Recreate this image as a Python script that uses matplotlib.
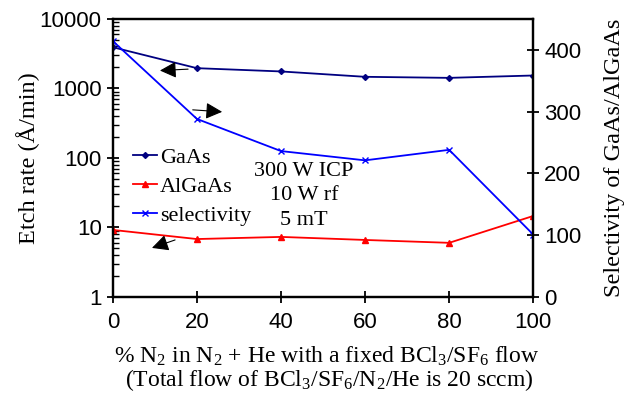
import numpy as np
import matplotlib.pyplot as plt
from matplotlib.ticker import LogLocator, NullFormatter, FixedLocator

plt.rcParams["mathtext.fontset"] = "custom"
plt.rcParams["mathtext.rm"] = "Liberation Serif"
plt.rcParams["mathtext.it"] = "Liberation Serif"
plt.rcParams["mathtext.bf"] = "Liberation Serif"

n2_percent = [0, 20, 40, 60, 80, 100]
gaas_rate = [3900, 1950, 1750, 1465, 1415, 1530]
algaas_rate = [9.2, 6.8, 7.3, 6.6, 6.0, 14.6]
selectivity = [414, 288, 236, 221, 238, 101]

serif = ["Liberation Serif", "DejaVu Serif"]
sans = ["Liberation Sans", "DejaVu Sans"]

fig = plt.figure(figsize=(6.34, 4.09), dpi=100)
ax = fig.add_axes([0.178, 0.274, 0.663, 0.680])
ax2 = ax.twinx()

l1, = ax.plot(n2_percent, gaas_rate, color="#000080", marker="D", markersize=3,
              linewidth=1.3, label="GaAs")
l2, = ax.plot(n2_percent, algaas_rate, color="#ff0000", marker="^", markersize=4.5,
              linewidth=1.3, label="AlGaAs")
l3, = ax2.plot(n2_percent, selectivity, color="#0000ff", marker="x", markersize=4.5,
               markeredgewidth=1, linewidth=1.3, label="selectivity")

ax.set_yscale("log")
ax.set_ylim(1, 10000)
ax.set_xlim(0, 100)
ax2.set_ylim(0, 450)
ax.set_xticks(n2_percent)
ax.set_yticks([1, 10, 100, 1000, 10000])
ax.set_yticklabels(["1", "10", "100", "1000", "10000"])
ax.yaxis.set_minor_locator(LogLocator(base=10, subs=np.arange(2, 10)))
ax.yaxis.set_minor_formatter(NullFormatter())
ax2.yaxis.set_major_locator(FixedLocator([0, 100, 200, 300, 400]))

for a in (ax, ax2):
    for s in a.spines.values():
        s.set_linewidth(1.6)
ax.tick_params(axis="both", which="major", direction="inout", length=9, width=1.3,
               labelsize=16)
ax.tick_params(axis="y", which="minor", direction="in", length=4, width=1)
ax2.tick_params(axis="y", which="major", direction="inout", length=9, width=1.3,
                labelsize=16)
for lab in ax.get_xticklabels() + ax.get_yticklabels() + ax2.get_yticklabels():
    lab.set_family(sans)
ax.tick_params(axis="x", pad=6)

ax.set_ylabel("Etch rate (Å/min)", family=serif, fontsize=17.5, labelpad=0)
ax2.set_ylabel("Selectivity of GaAs/AlGaAs", family=serif, fontsize=17.5, labelpad=16)
fig.text(0.515, 0.128,
         r"% N$_\mathrm{2}$ in N$_\mathrm{2}$ + He with a fixed BCl$_\mathrm{3}$/SF$_\mathrm{6}$ flow",
         ha="center", va="center", fontsize=17, family=serif)
fig.text(0.520, 0.071,
         r"(Total flow of BCl$_\mathrm{3}$/SF$_\mathrm{6}$/N$_\mathrm{2}$/He is 20 sccm)",
         ha="center", va="center", fontsize=17, family=serif)

leg = ax.legend(handles=[l1, l2, l3], loc="center left", bbox_to_anchor=(0.048, 0.398),
                frameon=False, prop={"family": serif, "size": 16},
                borderpad=0, borderaxespad=0,
                handlelength=1.1, handletextpad=0.1, labelspacing=0.38)

ax.text(45.5, 0.363, "300 W ICP\n10 W rf\n5 mT", transform=ax.get_xaxis_transform(),
        ha="center", va="center", fontsize=16, family=serif, linespacing=1.4)

arrow = dict(arrowstyle="-|>,head_length=1.0,head_width=0.5", color="black", lw=0.8,
             shrinkA=0, shrinkB=0)
ax.annotate("", xy=(11.2, 1803), xytext=(17.9, 1889), arrowprops=arrow)
ax2.annotate("", xy=(26.0, 299.5), xytext=(19.0, 302.7), arrowprops=arrow)
ax.annotate("", xy=(9.3, 5.07), xytext=(14.8, 6.6), arrowprops=arrow)

fig.savefig("out.png", dpi=100)
